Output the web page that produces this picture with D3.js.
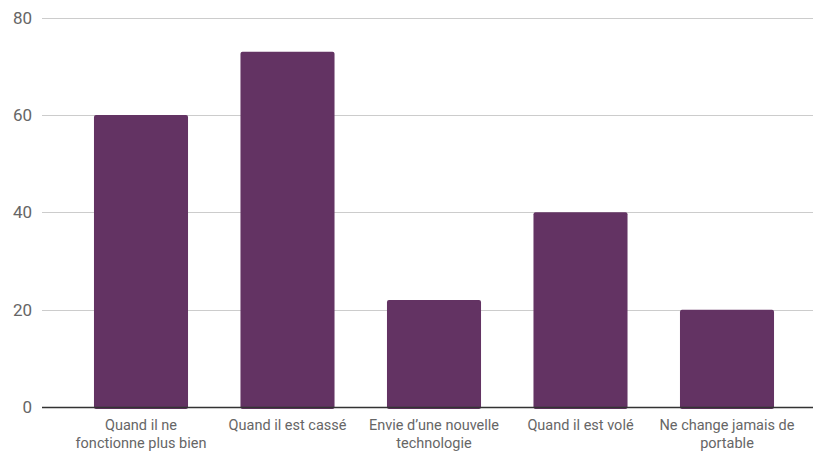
<!DOCTYPE html>
<html>
<head>
<meta charset="utf-8">
<script src="https://cdn.jsdelivr.net/npm/d3@7"></script>
<style>
  html, body { margin: 0; padding: 0; background: #fff; }
  svg { display: block; font-family: Roboto, "Noto Sans", sans-serif; }
</style>
</head>
<body>
<svg id="chart" width="813" height="453"></svg>
<script>
// Raisons de changer de portable
const categories = [
  ["Quand il ne", "fonctionne plus bien"],
  ["Quand il est cassé"],
  ["Envie d\u2019une nouvelle", "technologie"],
  ["Quand il est volé"],
  ["Ne change jamais de", "portable"]
];
const values = [60, 73, 22, 40, 20];
const yTicks = [0, 20, 40, 60, 80];

const svg = d3.select("#chart");
const plotLeft = 42, plotRight = 813;
const yTop = 17.7, yBottom = 407;

const x = d3.scaleBand()
  .domain(d3.range(values.length))
  .range([67.75, 800.25])
  .paddingInner(0.358)
  .paddingOuter(0.179);

const y = d3.scaleLinear().domain([0, 80]).range([yBottom, yTop]);

// gridlines
svg.append("g")
  .selectAll("line")
  .data(yTicks.filter(d => d !== 0))
  .join("line")
  .attr("x1", plotLeft).attr("x2", plotRight)
  .attr("y1", d => Math.round(y(d)) + 0.5).attr("y2", d => Math.round(y(d)) + 0.5)
  .attr("stroke", "#cccccc").attr("stroke-width", 1);

// y tick labels
svg.append("g")
  .selectAll("text")
  .data(yTicks)
  .join("text")
  .attr("x", 32).attr("y", d => y(d))
  .attr("dy", "0.35em")
  .attr("text-anchor", "end")
  .attr("font-size", 17)
  .attr("fill", "#666666")
  .text(d => d);

// bars
svg.append("g")
  .selectAll("rect")
  .data(values)
  .join("rect")
  .attr("x", (d, i) => x(i))
  .attr("y", d => y(d))
  .attr("width", x.bandwidth())
  .attr("height", d => yBottom - y(d) + 2)
  .attr("rx", 2).attr("ry", 2)
  .attr("fill", "#633363");

// baseline
svg.append("line")
  .attr("x1", plotLeft).attr("x2", plotRight)
  .attr("y1", yBottom + 0.5).attr("y2", yBottom + 0.5)
  .attr("stroke", "#333333").attr("stroke-width", 1.3);

// category labels
const lab = svg.append("g")
  .selectAll("text")
  .data(categories)
  .join("text")
  .attr("x", (d, i) => x(i) + x.bandwidth() / 2)
  .attr("y", 430)
  .attr("text-anchor", "middle")
  .attr("font-size", 14.5)
  .attr("fill", "#666666");
lab.selectAll("tspan")
  .data(d => d)
  .join("tspan")
  .attr("x", function() { return d3.select(this.parentNode).attr("x"); })
  .attr("dy", (d, i) => i === 0 ? 0 : 18)
  .text(d => d);
</script>
</body>
</html>
